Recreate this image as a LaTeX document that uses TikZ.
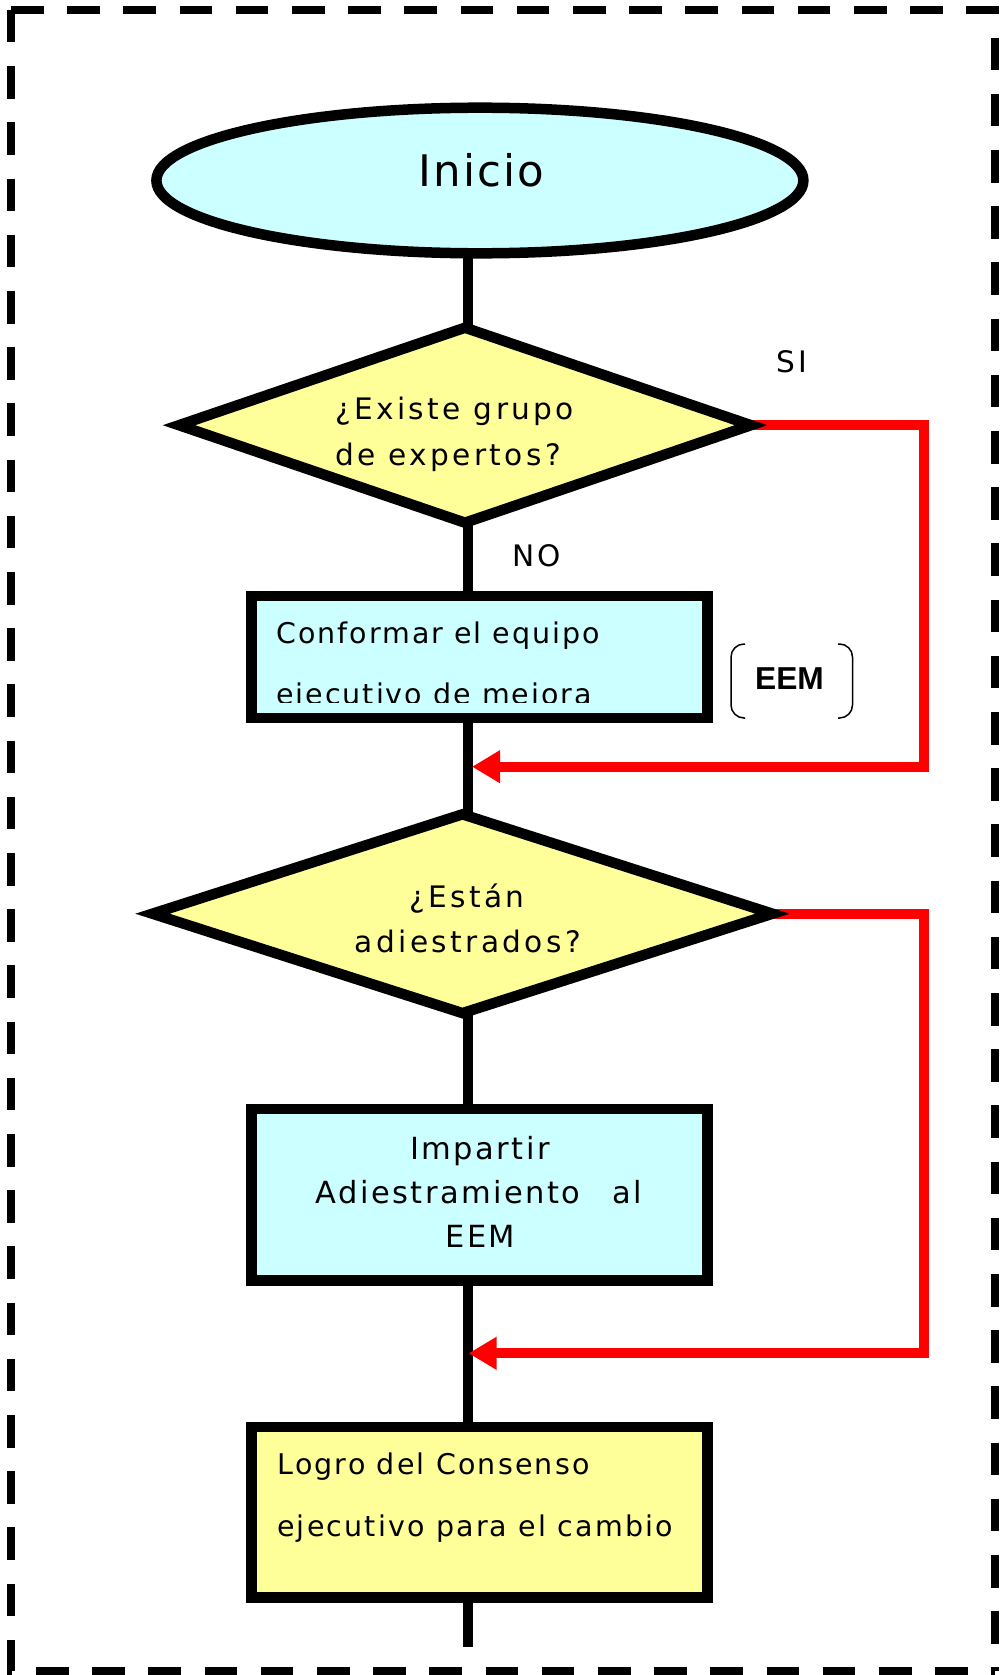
\documentclass[tikz,border=0pt]{standalone}
\usepackage{fontspec}
\setmainfont{DejaVu Sans}
\newfontfamily\eemfont{Liberation Sans}
\usetikzlibrary{shapes.geometric,arrows.meta}
\pgfdeclarelayer{bg}
\pgfsetlayers{bg,main}
\definecolor{cyanfill}{HTML}{CCFFFF}
\definecolor{yellowfill}{HTML}{FFFF99}
\definecolor{flowred}{HTML}{FF0000}
\begin{document}
\begin{tikzpicture}[x=1pt,y=-1pt,
  shapeborder/.style={draw=black,line width=10.5pt,outer sep=0pt},
  startnode/.style={shapeborder,ellipse,fill=cyanfill,inner sep=0pt,minimum width=647pt,minimum height=145.6pt},
  decision/.style={shapeborder,diamond,fill=yellowfill,inner sep=0pt},
  procbox/.style={shapeborder,rectangle,inner sep=0pt,minimum width=456pt},
  flow/.style={line width=10pt,draw=black},
  back/.style={line width=10pt,draw=flowred,-{Triangle[length=28pt,width=31pt]}},
  frame/.style={line width=8pt,dash pattern=on 32.5pt off 23.7pt},
  bracketline/.style={line width=1.5pt,rounded corners=13pt},
  txt/.style={inner sep=0pt,text=black},
  ttitle/.style={txt,font=\fontsize{43.5}{50}\selectfont\addfontfeatures{LetterSpace=5}},
  tdia/.style={txt,font=\fontsize{29.6}{36}\selectfont\addfontfeatures{LetterSpace=11.5}},
  tboxa/.style={txt,font=\fontsize{28.5}{34}\selectfont\addfontfeatures{LetterSpace=7}},
  tboxc/.style={txt,font=\fontsize{28.5}{34}\selectfont\addfontfeatures{LetterSpace=7.7}},
  tboxb/.style={txt,font=\fontsize{30.5}{36}\selectfont\addfontfeatures{LetterSpace=8}},
  teem/.style={txt,font=\eemfont\bfseries\fontsize{31.7}{36}\selectfont},
]
\useasboundingbox (0,0) rectangle (1001,1675);

% frame
\draw[frame] (11,10) -- (995,10) -- (995,1671);
\draw[frame] (11,10) -- (11,1671) -- (995,1671);

% nodes
\node[startnode] (start) at (479.9,180.5) {};
\node[ttitle,anchor=base] (tini) at (481.5,186.7) {Inicio};

\node[decision,minimum width=572pt,minimum height=195pt] (d1) at (465,425.2) {};
\node[tdia,anchor=base west] (d1a) at (335,419) {¿Existe grupo};
\node[tdia,anchor=base west] (d1b) at (335,465) {de expertos?};

\node[procbox,fill=cyanfill,minimum height=121.7pt] (b1) at (479.6,656.9) {};
\node[tboxa,anchor=base west] (b1a) at (276,643) {Conformar el equipo};
\begin{scope}
  \clip (250,600) rectangle (710,702.5);
  \node[tboxa,anchor=base west] (b1b) at (276,704) {ejecutivo de mejora};
\end{scope}

\node[decision,minimum width=620pt,minimum height=198.8pt] (d2) at (462.5,913.7) {};
\node[tdia,anchor=base] (d2a) at (467,907) {¿Están};
\node[tdia,anchor=base] (d2b) at (467.8,952.6) {adiestrados?};

\node[procbox,fill=cyanfill,minimum height=171.7pt] (b2) at (479.6,1194.6) {};
\node[tboxb,anchor=base] (b2a) at (480,1159) {Impartir};
\node[tboxb,anchor=base] (b2b) at (478.8,1203.3) {Adiestramiento\hspace{20pt} al};
\node[tboxb,anchor=base] (b2c) at (480.3,1247.3) {EEM};

\node[procbox,fill=yellowfill,minimum height=170.4pt] (b3) at (479.6,1512.2) {};
\node[tboxc,anchor=base west] (b3a) at (277.3,1474.3) {Logro del Consenso};
\node[tboxc,anchor=base west] (b3b) at (277,1536) {ejecutivo para el cambio};

% labels
\node[tdia,anchor=base west] (si) at (776,372) {SI};
\node[tdia,anchor=base west] (no) at (512,566.5) {NO};
\node[teem,anchor=base west] (eem) at (755,689.3) {EEM};
\draw[bracketline] (745,644) -- (731,644) -- (731,718) -- (745,718);
\draw[bracketline] (838,644) -- (852.5,644) -- (852.5,718) -- (838,718);

% helper coordinates
\coordinate (ax) at (467.5,0);
\coordinate (rx) at (924,0);
\coordinate (m1) at (472,766.7);
\coordinate (m2) at (468.5,1353.3);
\coordinate (endpt) at (467.5,1646.7);

\begin{pgfonlayer}{bg}
  \draw[flow] (start.center -| ax) -- (d1.center -| ax);
  \draw[flow] (d1.center -| ax) -- (b1.center -| ax);
  \draw[flow] (b1.center -| ax) -- (d2.center -| ax);
  \draw[flow] (d2.center -| ax) -- (b2.center -| ax);
  \draw[flow] (b2.center -| ax) -- (b3.center -| ax);
  \draw[flow] (b3.center -| ax) -- (endpt);
  \draw[back] (d1.east) -- (d1.east -| rx) -- (m1 -| rx) -- (m1);
  \draw[back] (d2.east) -- (d2.east -| rx) -- (m2 -| rx) -- (m2);
\end{pgfonlayer}
\end{tikzpicture}
\end{document}
